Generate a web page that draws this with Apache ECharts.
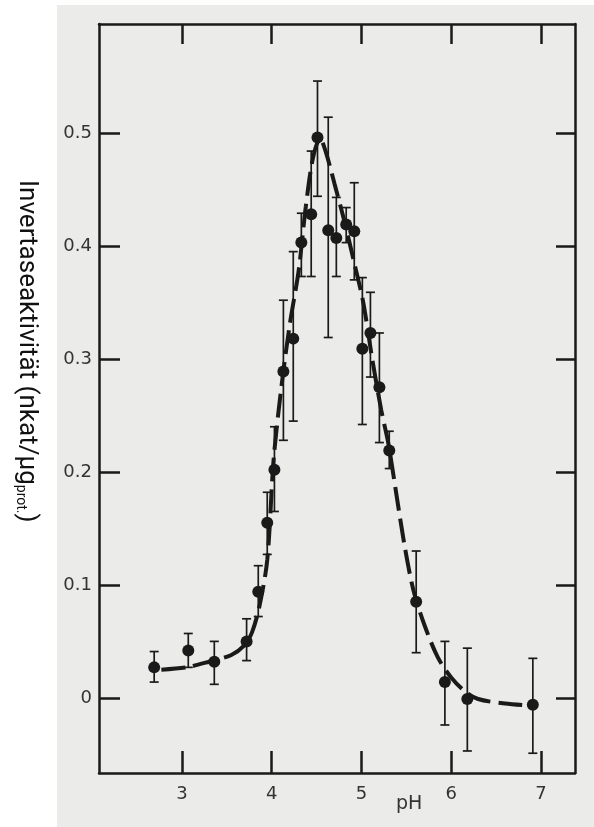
<!DOCTYPE html>
<html>
<head>
<meta charset="utf-8">
<script src="https://cdn.jsdelivr.net/npm/echarts@6/dist/echarts.min.js"></script>
<style>
  html, body { margin: 0; padding: 0; background: #fff; }
  #chart { width: 594px; height: 827px; }
</style>
</head>
<body>
<div id="chart"></div>
<script>
// measured points (pH, activity, error bar top / bottom)
var phPoints = [2.69, 3.07, 3.36, 3.72, 3.85, 3.95, 4.03, 4.13, 4.24, 4.33, 4.44, 4.51,
                4.63, 4.72, 4.83, 4.92, 5.01, 5.10, 5.20, 5.31, 5.61, 5.93, 6.18, 6.91];
var activity = [0.027, 0.042, 0.032, 0.050, 0.094, 0.155, 0.202, 0.289, 0.318, 0.403, 0.428, 0.496,
                0.414, 0.407, 0.419, 0.413, 0.309, 0.323, 0.275, 0.219, 0.085, 0.014, -0.001, -0.006];
var errHigh = [0.041, 0.057, 0.050, 0.070, 0.117, 0.182, 0.240, 0.352, 0.395, 0.429, 0.484, 0.546,
               0.514, 0.443, 0.434, 0.456, 0.372, 0.359, 0.323, 0.236, 0.130, 0.050, 0.044, 0.035];
var errLow = [0.014, 0.027, 0.012, 0.033, 0.072, 0.127, 0.165, 0.228, 0.245, 0.373, 0.373, 0.444,
              0.319, 0.373, 0.403, 0.370, 0.242, 0.284, 0.226, 0.203, 0.040, -0.024, -0.047, -0.049];

// hand drawn curve through the points
var curvePh = [2.77, 3.05, 3.30, 3.55, 3.70, 3.78, 3.86, 3.95, 4.02, 4.10, 4.20, 4.30, 4.38, 4.46,
               4.54, 4.60, 4.70, 4.80, 4.92, 5.02, 5.12, 5.22, 5.30, 5.38, 5.48, 5.58, 5.70, 5.85,
               6.00, 6.15, 6.30, 6.60, 6.90];
var curveVal = [0.025, 0.027, 0.032, 0.038, 0.047, 0.058, 0.080, 0.122, 0.210, 0.270, 0.330, 0.378,
                0.435, 0.478, 0.495, 0.484, 0.455, 0.425, 0.385, 0.350, 0.300, 0.255, 0.225, 0.185,
                0.135, 0.095, 0.065, 0.036, 0.018, 0.006, -0.001, -0.005, -0.007];

var xTicks = [3, 4, 5, 6, 7];
var yTicks = [0, 0.1, 0.2, 0.3, 0.4, 0.5];

var pointData = [], barData = [], curveData = [];
for (var i = 0; i < phPoints.length; i++) {
  pointData.push([phPoints[i], activity[i]]);
  barData.push([phPoints[i], errHigh[i], errLow[i]]);
}
for (var j = 0; j < curvePh.length; j++) {
  curveData.push([curvePh[j], curveVal[j]]);
}

var ink = "#1a1a1a";
var xMin = 2.075, xMax = 7.38;
var yMin = -0.0665, yMax = 0.5965;

var chart = echarts.init(document.getElementById("chart"));

var option = {
  animation: false,
  backgroundColor: "#ffffff",
  graphic: [
    {
      type: "rect", left: 57, top: 5, z: -10,
      shape: { width: 540, height: 830 },
      style: { fill: "#ebebe9" }
    },
    {
      type: "text", left: 396, top: 795,
      style: { text: "pH", font: '19px "DejaVu Sans"', fill: "#333" }
    },
    {
      type: "text", x: 39, y: 180, rotation: -Math.PI / 2,
      style: {
        text: "Invertaseaktivität (nkat/µg{s|prot.})",
        font: '26px Roboto',
        fill: "#111",
        rich: { s: { fontSize: 14, fontFamily: "Roboto", padding: [11, 0, 0, 0] } }
      }
    }
  ],
  grid: { left: 99, right: 19, top: 24, bottom: 54 },
  xAxis: [
    {
      type: "value", position: "bottom", min: xMin, max: xMax,
      axisLine: { onZero: false, lineStyle: { color: ink, width: 2.5 } },
      axisTick: { inside: true, length: 22, customValues: xTicks, lineStyle: { color: ink, width: 2.5 } },
      axisLabel: { customValues: xTicks, margin: 12, color: "#333", fontSize: 18, fontFamily: "DejaVu Sans" },
      splitLine: { show: false }
    },
    {
      type: "value", position: "top", min: xMin, max: xMax,
      axisLine: { onZero: false, lineStyle: { color: ink, width: 2.5 } },
      axisTick: { inside: true, length: 20, customValues: xTicks, lineStyle: { color: ink, width: 2.5 } },
      axisLabel: { show: false },
      splitLine: { show: false }
    }
  ],
  yAxis: [
    {
      type: "value", position: "left", min: yMin, max: yMax,
      axisLine: { show: true, onZero: false, lineStyle: { color: ink, width: 2.5 } },
      axisTick: { show: true, inside: true, length: 21, customValues: yTicks, lineStyle: { color: ink, width: 2.5 } },
      axisLabel: {
        customValues: yTicks, margin: 7, color: "#333", fontSize: 18, fontFamily: "DejaVu Sans",
        formatter: function(v) { return v === 0 ? "0" : v.toFixed(1); }
      },
      splitLine: { show: false }
    },
    {
      type: "value", position: "right", min: yMin, max: yMax,
      axisLine: { show: true, onZero: false, lineStyle: { color: ink, width: 2.5 } },
      axisTick: { show: true, inside: true, length: 19, customValues: yTicks, lineStyle: { color: ink, width: 2.5 } },
      axisLabel: { show: false },
      splitLine: { show: false }
    }
  ],
  series: [
    {
      type: "line",
      data: curveData,
      smooth: 0.3,
      showSymbol: false,
      z: 2,
      lineStyle: { color: ink, width: 4, type: [24, 8] }
    },
    {
      type: "custom",
      data: barData,
      z: 3,
      renderItem: function(params, api) {
        var x = api.value(0);
        var top = api.coord([x, api.value(1)]);
        var bot = api.coord([x, api.value(2)]);
        var w = 4.5;
        var st = { stroke: ink, lineWidth: 1.7 };
        return {
          type: "group",
          children: [
            { type: "line", shape: { x1: top[0], y1: top[1], x2: bot[0], y2: bot[1] }, style: st },
            { type: "line", shape: { x1: top[0] - w, y1: top[1], x2: top[0] + w, y2: top[1] }, style: st },
            { type: "line", shape: { x1: bot[0] - w, y1: bot[1], x2: bot[0] + w, y2: bot[1] }, style: st }
          ]
        };
      }
    },
    {
      type: "scatter",
      data: pointData,
      symbol: "circle",
      symbolSize: 12,
      z: 4,
      itemStyle: { color: ink, opacity: 1 }
    }
  ]
};

chart.setOption(option);
</script>
</body>
</html>
